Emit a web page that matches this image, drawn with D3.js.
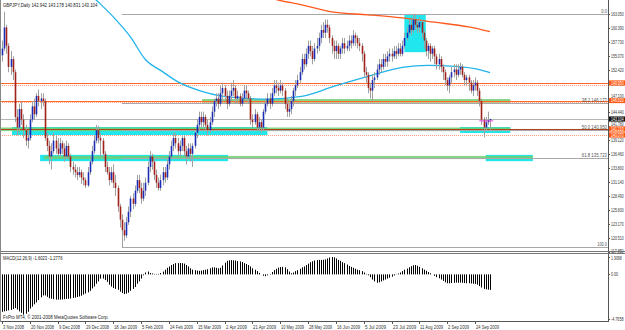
<!DOCTYPE html>
<html><head><meta charset="utf-8">
<script src="https://cdn.jsdelivr.net/npm/d3@7"></script>
<style>body{margin:0;background:#fff}svg{display:block}text{font-family:"Liberation Sans",Arial,sans-serif}</style>
</head><body><svg id="c" width="625" height="330"></svg>
<script>
// ---------- DATA ----------
const firstOpen = 155.2;
const closes = [156.5,160.5,157,153,154.5,152,143.5,141.5,145,143,
141,139,139.5,143,145.5,144,147.5,146.5,147,146.5,
139.5,138,136,137,139,137.5,136.5,138.5,137.5,136,
138,136,134,133.5,133,132.5,133,132,131.5,130.5,
133,135,137,139,141,139.5,139,136.5,134,133,
131.5,133,131,130,126.5,124,122,121,123.5,125.5,
128,127,129.5,131.5,130,128,129.5,131,134,136,
135,132.5,131,130,131.5,133,132,134.5,136,138,
139.5,138.5,137,138,139.5,137,136,137.5,136.5,138,
140.5,142,143.5,142.5,143.5,142,141,142.5,144.5,146.5,
147,146,148,149,147.5,146,147.5,148.5,149,147,
147.5,146,147,148.5,148,147,143,142.5,144,141.5,
142.5,141.5,144.5,146,147,146,148,149.5,149,148.5,
149.5,148.5,146,144.5,145,146.5,148.5,149.5,150.5,152,
154.5,153.5,155.5,157,156,154.5,156.5,157,158.5,160,
159.5,161,160.5,158.5,157,156,157,155.5,156.5,157.5,
156.5,157,158,157.5,159,158.5,157.5,157,155.5,152,
151.5,149,148.5,150.5,151,152.5,153.5,153,154.5,154,
155,155.5,155,156,155.5,156.5,155.5,157,158.5,159.5,
161,160,162,161,160.5,161.5,159.5,158,156,157,
155.5,156.5,155,153.5,154.5,153,152,150.5,149.5,151,
152,152.5,151.5,152.5,153,151.5,150.5,151,150,148.5,
149.5,150,148.5,146.5,143,141.5,142.5,142.94,143.104];
const highs = [158,163.5,161,157.5,156,155,152.5,145,146,146.5,
144,142,141,144,146.5,147,148,148.7,148,148,
147,140.5,139,138.5,140.5,140,139.5,139.5,139,138.5,
139,138.5,136.5,135,134.5,134,134,133.5,133,132,
134,136,138,140,142,141.8,140.5,139.5,137,135,
134,134,134.5,132.5,130.5,127,125,123.5,124.5,126.5,
128.5,129,130.5,132.5,132.5,131,131,132,135,137,
136.5,135.5,133.5,132,132.5,134,134,135.5,137,139,
140.5,140.5,139.5,139,140,140,138,138.5,138.5,138.5,
141,143,144.5,144.5,144.5,144,143,143.5,145.5,147,
148,148,149.5,150,149.5,148.5,148.5,150,150.5,149.5,
148.5,148,148,149.5,149.5,148.5,147.5,144,145,144.5,
143.5,143,145,147,148,148,149,150.5,150.5,150,
150.5,150,149,147,146,147.5,149,150.5,151.5,153,
155.5,155.5,156.5,158,158,157,157.5,158.5,159.5,161,
161.5,162,162,161,159,158,158,157.5,157,158.5,
158.5,158,159,159,160,159.5,159,158.5,157.5,156,
153,152,150,151.5,152,153.5,154.5,154.5,155.5,155.5,
156,156.5,156.5,157,157,157.5,157.5,158,159.5,160.5,
162,162,163,163.1,162,162.5,162,160,158.5,157.5,
157.5,157,157,155.5,155.5,155,153.5,152.5,151,151.5,
153,153.5,153.5,153.5,153.8,153.5,152,151.5,151.5,150.5,
150.5,151,150.5,149,147,143.5,143.5,144.5,143.178];
const lows = [154,156,155.5,152,151.5,150.5,142.5,140,140.5,142,
139.5,138,137.5,139,142.5,143,143.5,145.5,145,145.5,
139,137,134.5,133.5,136.5,136.5,136,136,136.5,135,
135.5,135.5,133,132.5,132,131.5,132,130.8,130.5,130,
130.2,132.5,134.5,136.5,138.5,138.5,136,135.5,133,132.5,
130.5,131,130,128.5,125.5,122.5,118.8,120,120.5,123,
124.5,126,126.5,129,129,127,127.5,128.5,130.5,133,
133.5,131.5,130,129.5,129.5,130.5,131,131.5,133.5,135.5,
137,137.5,136,136,137,136,134.5,135.5,135,134,
137.5,139.5,141,141.5,141.5,141,140,140.5,142,143.5,
145.5,145,145.5,146.5,146.5,145,145.5,146.5,147.5,146,
146,145.5,145.5,146.5,146.5,146,142,141.5,142,141,
140.8,140.5,141,144,145.5,145,145.5,147.5,148,147.5,
148,147.5,145,143.5,143.5,144,145.5,147.5,149,150,
151.5,152.5,153,154.5,155,153.5,154,155.5,156,157.5,
158.5,158.5,159.5,157.5,155.5,154.5,154.5,154.5,154.5,155.5,
155.5,156,156,156.5,157,157,156.5,156,154,151,
150,148,147,146.5,149,150.5,151.5,152,152.5,153,
153,154,154,154.5,154.5,155,155,155,156.5,158,
159,159,159.5,160,159.5,159.5,158.5,156.5,155,154.5,
154,154.5,153.5,152.5,152.5,152,150.5,149.5,148.5,148,
150,151,150.5,151,151.5,151,149.5,149.5,148.5,148,
147.5,148.5,147.5,145.5,142,139.6,141,142,140.831];

// moving averages (bar index, price)
const maBlueIdx = [38,44,52,60,67,75,82,93,102,108,124,140,155,171,187,199,212,223,228];
const maBlue    = [168,165.7,162.5,158.7,154.4,152.1,150.2,148.4,147.5,147.2,146.9,147.4,149.3,151.2,152.9,153.3,153.1,152.5,151.9];
const maRedIdx  = [120,129,140,155,171,187,202,218,228];
const maRed     = [166.6,165.7,164.8,163.4,162.9,162.3,161.5,160.6,159.7];

const macd = [-4.0,-3.95,-3.9,-3.85,-3.8,-3.7,-3.6,-3.75,-3.95,-4.1,
-4.3,-4.2,-4.0,-3.65,-3.45,-3.2,-3.0,-2.75,-2.45,-2.25,
-2.25,-2.4,-2.55,-2.6,-2.65,-2.7,-2.7,-2.7,-2.68,-2.65,
-2.62,-2.6,-2.58,-2.52,-2.48,-2.42,-2.36,-2.28,-2.15,-2.05,
-1.92,-1.75,-1.5,-1.3,-1.0,-0.75,-0.45,-0.45,-0.6,-0.8,
-1.1,-1.3,-1.45,-1.55,-1.65,-1.85,-2.0,-2.1,-2.05,-1.95,
-1.75,-1.55,-1.35,-1.0,-0.75,-0.45,-0.1,0.2,0.3,0.15,
0.1,0.05,0.05,0.05,0.15,0.3,0.5,0.7,0.85,1.0,
1.1,1.2,1.2,1.22,1.2,1.15,1.0,0.85,0.65,0.5,
0.45,0.4,0.38,0.4,0.45,0.5,0.55,0.65,0.75,0.75,
0.7,0.65,0.7,0.95,1.25,1.45,1.5,1.52,1.5,1.48,
1.42,1.38,1.32,1.2,1.1,1.0,0.85,0.65,0.5,0.35,
0.15,0.0,-0.15,-0.2,-0.1,0.05,0.25,0.45,0.6,0.72,
0.78,0.8,0.75,0.55,0.3,0.12,0.2,0.35,0.45,0.6,
0.75,0.85,1.0,1.15,1.3,1.4,1.48,1.52,1.55,1.55,
1.56,1.6,1.7,1.8,1.85,1.82,1.7,1.55,1.45,1.3,
1.2,1.05,0.9,0.8,0.7,0.6,0.5,0.45,0.35,0.2,
0.05,-0.1,-0.3,-0.55,-0.75,-0.9,-0.85,-0.75,-0.65,-0.55,
-0.45,-0.35,-0.25,-0.12,-0.02,0.1,0.2,0.35,0.5,0.62,
0.75,0.88,0.98,1.0,0.92,0.8,0.65,0.5,0.38,0.25,
0.12,0.0,-0.15,-0.3,-0.42,-0.55,-0.7,-0.85,-0.95,-0.95,
-0.92,-0.9,-0.88,-0.9,-0.88,-0.9,-0.92,-0.95,-0.95,-0.97,
-1.0,-1.02,-1.1,-1.25,-1.4,-1.55,-1.6,-1.63,-1.66];

const priceTicks = [163.050,160.390,157.730,155.070,152.420,149.760,147.100,144.440,141.780,139.120,136.460,133.800,131.140,128.490,125.830,123.170,120.510,117.850];
const macdTicks = [1.9098,0,-4.7658];
const macdTickLabels = ["1.9098","0.00","-4.7658"];
const dateIdx = [0,13,26,39,52,65,78,91,104,117,130,143,156,169,182,195,208,221];
const dateLabels = ["3 Nov 2008","20 Nov 2008","9 Dec 2008","29 Dec 2008","18 Jan 2009","5 Feb 2009","24 Feb 2009","15 Mar 2009","2 Apr 2009","21 Apr 2009","10 May 2009","28 May 2009","16 Jun 2009","5 Jul 2009","23 Jul 2009","11 Aug 2009","2 Sep 2009","24 Sep 2009"];

const fibStartIdx = 56, fibHigh = 163.1, fibLow = 118.8;
const fibPct = [0,38.2,50,61.8,100];
const orangeLevels = [149.95,146.62,141.21];
const orangeDotted = [149.6,146.3,140.07];
const greyLevel = 143.11;
const axisOrangeLabels = [149.95,146.62,141.21,140.07];
const lastPrice = 143.104;
// annotation zones [startIdx, endIdx, priceTop, priceBottom]
const cyanZones = [[4.7,124,141.59,140.07],[214,237.5,141.59,140.45],[17.8,105.6,136.3,135.1],[226,248,136.3,135.1],[188,198,162.9,155.8]];
const greenZones = [[93.5,237.5,146.9,146.2],[-1,237.5,141.5,140.8],[19.6,248,136.1,135.5]];
const headerText = "GBPJPY,Daily  142.942 143.178 140.831 143.104";
const macdText = "MACD(12,26,9) -1.6023 -1.2776";
const copyText = "FxPro MT4, \u00A9 2001-2008 MetaQuotes Software Corp.";

// ---------- DRAW ----------
const svg = d3.select("#c");
const W = 625, H = 330, plotR = 608;
const x = d3.scaleLinear().domain([0,228]).range([2,490]);
const y = d3.scaleLinear().domain([163.05,117.85]).range([14,252]);
const ym = d3.scaleLinear().domain([1.9098,-4.7658]).range([256.5,319]);

// text squeezed horizontally to the small bitmap-font width of the original
function txt(parent, xx, yy, s, opt={}) {
  const t = parent.append("text").attr("x",0).attr("y",0)
    .attr("font-size",opt.size||5.2).attr("fill",opt.fill||"#333").text(s);
  if (opt.anchor) t.attr("text-anchor",opt.anchor);
  const w = t.node().getComputedTextLength();
  const target = s.length*(opt.per||2.1);
  const sx = w>0 ? target/w : 1;
  t.attr("transform",`translate(${xx},${yy}) scale(${sx.toFixed(3)},1)`);
  return t;
}

svg.append("rect").attr("width",W).attr("height",H).attr("fill","#fff");
svg.append("clipPath").attr("id","mainclip").append("rect").attr("x",0).attr("y",0).attr("width",plotR).attr("height",251);
const g = svg.append("g").attr("clip-path","url(#mainclip)");

// zones
g.selectAll(".cz").data(cyanZones).enter().append("rect")
 .attr("x",d=>x(d[0])).attr("width",d=>x(d[1])-x(d[0]))
 .attr("y",d=>y(d[2])).attr("height",d=>y(d[3])-y(d[2])).attr("fill","#22e6ee");
g.selectAll(".gz").data(greenZones).enter().append("rect")
 .attr("x",d=>x(d[0])).attr("width",d=>x(d[1])-x(d[0]))
 .attr("y",d=>y(d[2])).attr("height",d=>y(d[3])-y(d[2])).attr("fill","#6fcf6f").attr("opacity",0.85);

// fib lines
const fibVal = p => fibHigh - (fibHigh-fibLow)*p/100;
fibPct.forEach(p=>{
  const yy = Math.round(y(fibVal(p)))+0.5;
  g.append("line").attr("x1",x(fibStartIdx)).attr("x2",plotR).attr("y1",yy).attr("y2",yy).attr("stroke","#a8a8a8").attr("stroke-width",1);
  const lab = p===0 ? "0.0" : (p===100 ? "100.0" : p.toFixed(1)+"  "+fibVal(p).toFixed(3));
  txt(svg, plotR-1, yy-1.2, lab, {anchor:"end", fill:"#555", per:1.95, size:4.8});
});
// orange levels
orangeLevels.forEach((p,k)=>{
  const yy = Math.round(y(p))+0.5;
  g.append("line").attr("x1",0).attr("x2",plotR).attr("y1",yy).attr("y2",yy).attr("stroke",k===2?"#b0441a":"#ff6a2a").attr("stroke-width",1.2);
});
orangeDotted.forEach(p=>{
  const yy = Math.round(y(p))+0.5;
  g.append("line").attr("x1",0).attr("x2",plotR).attr("y1",yy).attr("y2",yy).attr("stroke","#ff8a5a").attr("stroke-width",0.8).attr("stroke-dasharray","1,1");
});
{ const yy = Math.round(y(greyLevel))+0.5;
  g.append("line").attr("x1",0).attr("x2",plotR).attr("y1",yy).attr("y2",yy).attr("stroke","#b4b4b4").attr("stroke-width",1); }

// moving averages
const lineGen = d3.line().curve(d3.curveMonotoneX);
g.append("path").attr("d",lineGen(maBlueIdx.map((i,k)=>[x(i),y(maBlue[k])]))).attr("fill","none").attr("stroke","#20b4ea").attr("stroke-width",1.3);
g.append("path").attr("d",lineGen(maRedIdx.map((i,k)=>[x(i),y(maRed[k])]))).attr("fill","none").attr("stroke","#ff5a1e").attr("stroke-width",1.3);

// candles
const bars = closes.map((c,i)=>({i,o:i===0?firstOpen:closes[i-1],h:highs[i],l:lows[i],c}));
const cg = g.append("g");
cg.selectAll(".w").data(bars).enter().append("line")
 .attr("x1",d=>Math.round(x(d.i))+0.5).attr("x2",d=>Math.round(x(d.i))+0.5)
 .attr("y1",d=>y(d.h)).attr("y2",d=>y(d.l)).attr("stroke","#a0a0a0").attr("stroke-width",1);
cg.selectAll(".b").data(bars).enter().append("rect")
 .attr("x",d=>Math.round(x(d.i))-0.3).attr("width",1.6)
 .attr("y",d=>y(Math.max(d.o,d.c))).attr("height",d=>Math.max(0.8,Math.abs(y(d.o)-y(d.c))))
 .attr("fill",d=>d.c>=d.o?"#1a2db4":"#a0201a");
// small bid marker
g.append("line").attr("x1",x(223)).attr("x2",x(229.5)).attr("y1",y(142.75)).attr("y2",y(142.75)).attr("stroke","#e040e0").attr("stroke-width",1);

// header text
txt(svg, 3, 6.5, headerText, {fill:"#222"});

// right price axis
svg.append("line").attr("x1",plotR+0.5).attr("x2",plotR+0.5).attr("y1",0).attr("y2",322).attr("stroke","#555");
const boxPrices = axisOrangeLabels.concat([lastPrice]);
priceTicks.forEach(p=>{
  const yy = Math.round(y(p))+0.5;
  svg.append("line").attr("x1",plotR).attr("x2",plotR+2).attr("y1",yy).attr("y2",yy).attr("stroke","#555");
  let base = yy+1.7;
  // keep the scale text clear of the highlighted price boxes drawn beside it
  boxPrices.forEach(b=>{ const top = y(b)-2.6; if (y(b) > yy && top < base) base = top - 0.3; });
  if (p === priceTicks[priceTicks.length-1]) base = yy + 0.6;
  txt(svg, plotR+3, base, p.toFixed(3), {per:1.8, size:4.6});
});
axisOrangeLabels.forEach(p=>{
  const yy = y(p);
  svg.append("rect").attr("x",plotR+1).attr("y",yy-2.6).attr("width",W-plotR-1).attr("height",5.2).attr("fill","#ff5a14");
  txt(svg, plotR+3, yy+1.7, p.toFixed(3), {fill:"#fff", per:1.8, size:4.6});
});
{ const yy = y(lastPrice);
  svg.append("rect").attr("x",plotR+1).attr("y",yy-2.6).attr("width",W-plotR-1).attr("height",5.2).attr("fill","#111");
  txt(svg, plotR+3, yy+1.7, lastPrice.toFixed(3), {fill:"#fff", per:1.8, size:4.6}); }

// separator
svg.append("line").attr("x1",0).attr("x2",W).attr("y1",251.5).attr("y2",251.5).attr("stroke","#777");
svg.append("line").attr("x1",0).attr("x2",W).attr("y1",253.5).attr("y2",253.5).attr("stroke","#777");

// MACD
svg.append("g").selectAll("line").data(macd).enter().append("line")
 .attr("x1",(d,i)=>Math.round(x(i))+0.5).attr("x2",(d,i)=>Math.round(x(i))+0.5)
 .attr("y1",ym(0)).attr("y2",d=>ym(d)).attr("stroke","#000").attr("stroke-width",1);
macdTicks.forEach((v,k)=>{
  const yy = Math.round(ym(v))+0.5;
  svg.append("line").attr("x1",plotR).attr("x2",plotR+2).attr("y1",yy).attr("y2",yy).attr("stroke","#555");
  txt(svg, plotR+3, k===0 ? yy+2.4 : yy+1.7, macdTickLabels[k], {per:1.8, size:4.6});
});
txt(svg, 3, 259.5, macdText, {fill:"#222", per:2.05});
txt(svg, 3, 319, copyText, {fill:"#222", per:2.2});

// bottom date axis
svg.append("line").attr("x1",0).attr("x2",plotR+1).attr("y1",321.5).attr("y2",321.5).attr("stroke","#555");
svg.append("line").attr("x1",0.5).attr("x2",0.5).attr("y1",0).attr("y2",322).attr("stroke","#888");
dateIdx.forEach((i,k)=>{
  const xx = Math.round(x(i))+0.5;
  svg.append("line").attr("x1",xx).attr("x2",xx).attr("y1",321).attr("y2",324).attr("stroke","#555");
  txt(svg, xx+0.5, 328.5, dateLabels[k], {per:2.1});
});
</script></body></html>
